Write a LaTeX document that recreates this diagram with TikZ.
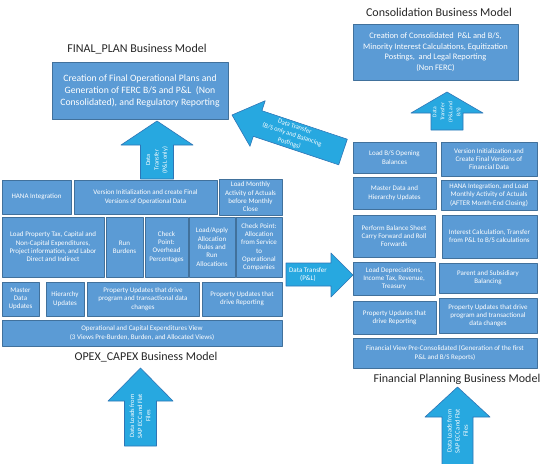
\documentclass[tikz,border=0pt]{standalone}
\usepackage{fontspec}
\setmainfont{Carlito}
\usepackage{tikz}
\definecolor{boxfill}{RGB}{91,155,213}
\definecolor{boxline}{RGB}{65,113,156}
\definecolor{arrfill}{RGB}{39,168,224}
\definecolor{arrline}{RGB}{46,117,182}

\begin{document}
\begin{tikzpicture}[x=1pt,y=-1pt,line join=round,
  blk/.style={draw=boxline,fill=boxfill,line width=0.8pt,text=white,align=center,inner sep=1pt,font=\fontsize{7}{8.3}\selectfont},
  bigblk/.style={blk,font=\fontsize{9.7}{11.7}\selectfont},
  ttl/.style={font=\fontsize{12}{14}\selectfont,text=black!85},
  barrow/.style={draw=arrline,fill=arrfill,line width=0.6pt},
  atxt/.style={text=white,align=center,inner sep=0pt,font=\fontsize{6.3}{8.4}\selectfont}]
\useasboundingbox (0,0) rectangle (550,464);
\clip (0,0) rectangle (550,464);
% titles
\node[ttl] (tfinal) at (137,49) {FINAL\_PLAN Business Model};
\node[ttl] (topex) at (146,357) {OPEX\_CAPEX Business Model};
\node[ttl] (tcons) at (439,12) {Consolidation Business Model};
\node[ttl] (tfin) at (457,379) {Financial Planning Business Model};
% main boxes
\node[bigblk,minimum width=176pt,minimum height=57pt] (final) at (140,91) {Creation of Final Operational Plans and\\Generation of FERC B/S and P\&L~ (Non\\Consolidated), and Regulatory Reporting};
\node[bigblk,font=\fontsize{8.4}{10.5}\selectfont,minimum width=165pt,minimum height=56pt] (cons) at (435.5,52) {Creation of Consolidated~ P\&L and B/S,\\Minority Interest Calculations, Equitization\\Postings,~ and Legal Reporting\\(Non FERC)};
% OPEX_CAPEX blocks
\foreach \nm/\xa/\ya/\xb/\yb/\txt in {
  hana/2/180/71/214/{HANA Integration},
  verinit/74/180/217/214/{Version Initialization and create Final\\Versions of Operational Data},
  loadmon/219/179/282/215/{Load Monthly\\Activity of Actuals\\before Monthly\\Close},
  loadprop/2/217/104/277/{Load Property Tax, Capital and\\Non-Capital Expenditures,\\Project information, and Labor\\Direct and Indirect},
  runbur/106/217/143/277/{Run\\Burdens},
  chkover/145/217/188/277/{Check\\Point:\\Overhead\\Percentages},
  loadapp/189/217/235/277/{Load/Apply\\Allocation\\Rules and\\Run\\Allocations},
  chkalloc/236/217/282/277/{Check Point:\\Allocation\\from Service\\to\\Operational\\Companies},
  master/2/282/39/316/{Master\\Data\\Updates},
  hier/46/282/84/316/{Hierarchy\\Updates},
  propprog/87/282/199/316/{Property Updates that drive\\program and transactional data\\changes},
  proprep/202/282/282/316/{Property Updates that\\drive Reporting},
  opview/2/320/282/346/{Operational and Capital Expenditures View\\(3 Views Pre-Burden, Burden, and Allocated Views)}}
\node[blk,minimum width={(\xb-\xa)*1pt},minimum height={(\yb-\ya)*1pt}] (\nm) at ({(\xa+\xb)/2},{(\ya+\yb)/2}) {\txt};
% Financial Planning blocks
\foreach \nm/\xa/\ya/\xb/\yb/\txt in {
  loadbs/353/142/436/173/{Load B/S Opening\\Balances},
  verfin/441/142/537/176/{Version Initialization and\\Create Final Versions of\\Financial Data},
  mdh/353/177/436/209/{Master Data and\\Hierarchy Updates},
  hanaact/441/180/537/210/{HANA Integration, and Load\\Monthly Activity of Actuals\\(AFTER Month-End Closing)},
  perfbs/353/215/435/257/{Perform Balance Sheet\\Carry Forward and Roll\\Forwards},
  intcalc/442/215/537/258/{Interest Calculation, Transfer\\from P\&L to B/S calculations},
  loaddep/353/262/435/295/{Load Depreciations,\\Income Tax, Revenue,\\Treasury},
  parent/439/263/537/293/{Parent and Subsidiary\\Balancing},
  proprep2/353/301/436/334/{Property Updates that\\drive Reporting},
  propprog2/439/298/537/333/{Property Updates that drive\\program and transactional\\data changes},
  finview/353/338/537/368/{Financial View Pre-Consolidated (Generation of the first\\P\&L and B/S Reports)}}
\node[blk,minimum width={(\xb-\xa)*1pt},minimum height={(\yb-\ya)*1pt}] (\nm) at ({(\xa+\xb)/2},{(\ya+\yb)/2}) {\txt};
% block arrows
\draw[barrow] (140.5,179) -- (140.5,145) -- (121,145) -- (157,121) -- (193,145) -- (173.5,145) -- (173.5,179) -- cycle;
\node[atxt,rotate=90] (dtpl) at (157,160) {Data\\Transfer\\(P\&L only)};
\draw[barrow] (431,130) -- (431,113) -- (411,113) -- (447,92) -- (483,113) -- (463,113) -- (463,130) -- cycle;
\node[atxt,rotate=90,font=\fontsize{5.5}{8}\selectfont] (dtplbs) at (447,112) {Data\\Transfer\\(P\&L and\\B/S)};
\draw[barrow] (124.5,446) -- (124.5,401) -- (108,401) -- (140.5,368) -- (173,401) -- (156.5,401) -- (156.5,446) -- cycle;
\node[atxt,rotate=90,font=\fontsize{6.5}{8.2}\selectfont] (dlopex) at (140,416) {Data Loads from\\SAP ECC and Flat\\Files};
\draw[barrow] (442,470) -- (442,417) -- (425,417) -- (457.5,387) -- (490,417) -- (473,417) -- (473,470) -- cycle;
\node[atxt,rotate=90,font=\fontsize{6.5}{8.2}\selectfont] (dlfin) at (457.5,431) {Data Loads from\\SAP ECC and Flat\\Files};
\draw[barrow] (286,263) -- (331,263) -- (331,253) -- (353,275) -- (331,297) -- (331,286) -- (286,286) -- cycle;
\node[atxt,font=\fontsize{7}{8.6}\selectfont] (dtpnl) at (308,274.5) {Data Transfer\\(P\&L)};
\draw[barrow] (232,115) -- (265.2,100.7) -- (261.9,110.7) -- (347.3,139.2) -- (338.7,164.8) -- (253.3,136.3) -- (250,146.3) -- cycle;
\node[atxt,rotate=-18.4,font=\fontsize{6.5}{8.6}\selectfont] (dtbs) at (292,135) {Data Transfer\\(B/S only and Balancing\\Postings)};
\end{tikzpicture}
\end{document}
